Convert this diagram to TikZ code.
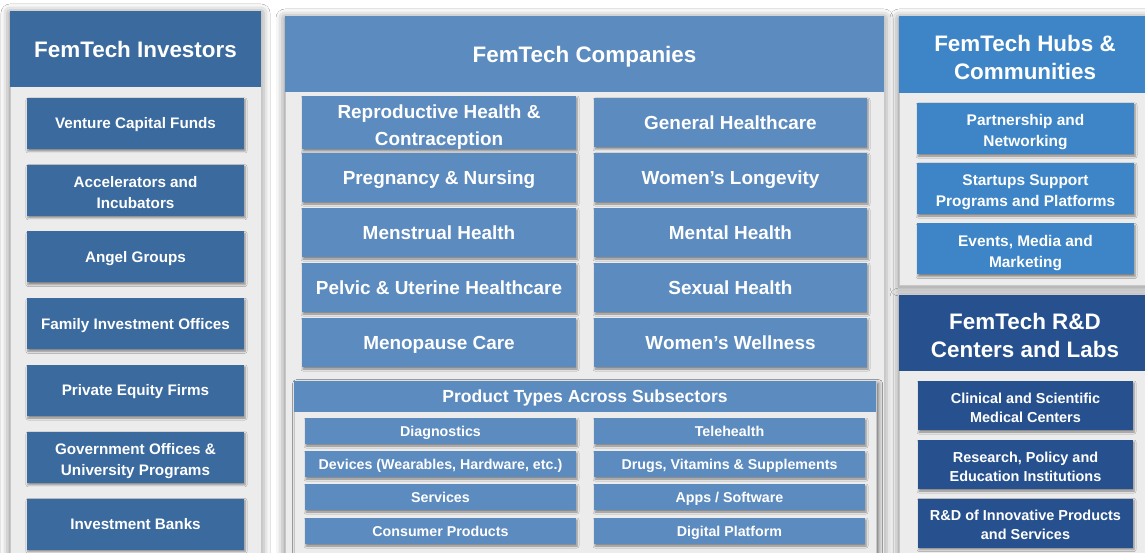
\documentclass[tikz,border=0pt]{standalone}
\usepackage{fontspec}
\setmainfont{Liberation Sans}
\usepackage{tikz}
\usetikzlibrary{shadows, shadows.blur}
\definecolor{investblue}{RGB}{58,106,158}
\definecolor{companyblue}{RGB}{92,139,191}
\definecolor{hubblue}{RGB}{61,133,198}
\definecolor{labblue}{RGB}{38,81,142}
\definecolor{panelgray}{RGB}{236,236,236}
\newcommand{\linestrut}{\rule[-0.21em]{0pt}{1.14em}}
\newcommand{\twolines}[3][4.5bp]{\rule[-0.21em]{0pt}{\dimexpr 1.14em+#1\relax}#2\\#3}
\tikzstyle{panel} = [rectangle, fill=panelgray, draw=black!22, line width=0.8bp,
                     inner sep=0pt, blur shadow={shadow xshift=0bp, shadow yshift=-2bp,
                     shadow blur radius=9bp, shadow opacity=55}]
\tikzstyle{head} = [rectangle, text=white, align=center, inner sep=0pt,
                    execute at begin node=\linestrut, execute at end node=\linestrut,
                    font=\bfseries\fontsize{22.5}{28}\selectfont]
\tikzstyle{item} = [rectangle, text=white, align=center, inner sep=0pt,
                    execute at begin node=\linestrut, execute at end node=\linestrut,
                    blur shadow={shadow xshift=1bp, shadow yshift=-2bp,
                    shadow blur radius=2bp, shadow opacity=45}]
\tikzstyle{investitem} = [item, fill=investblue, minimum width=217bp,
                          minimum height=51bp, font=\bfseries\fontsize{15.3}{21}\selectfont]
\tikzstyle{sectoritem} = [item, fill=companyblue, minimum height=49bp,
                          font=\bfseries\fontsize{19}{27}\selectfont]
\tikzstyle{typeitem} = [item, fill=companyblue, minimum width=271bp,
                        minimum height=26bp, font=\bfseries\fontsize{14.3}{17}\selectfont]
\tikzstyle{hubitem} = [item, fill=hubblue, minimum width=217bp,
                       minimum height=51bp, font=\bfseries\fontsize{15.5}{21}\selectfont]
\tikzstyle{labitem} = [item, fill=labblue, minimum width=215bp,
                       minimum height=49bp, font=\bfseries\fontsize{14.5}{19}\selectfont]
\begin{document}
\begin{tikzpicture}[x=1bp, y=-1bp]
\useasboundingbox (0,0) rectangle (1145,553);
\clip (0,0) rectangle (1145,553);
\fill[white] (0,0) rectangle (1145,553);
\node [panel, minimum width=251bp, minimum height=559bp] at (135.5,290.5) (investors) {};
\node [head, fill=investblue, minimum width=251bp, minimum height=76bp] at (135.5,49)
	(investors_head) {FemTech Investors};
\node [investitem] at (135.5,123.5) (venture) {Venture Capital Funds};
\node [investitem] at (135.5,190.25) (accelerators) {\twolines{Accelerators and}{Incubators}};
\node [investitem] at (135.5,257) (angel) {Angel Groups};
\node [investitem] at (135.5,323.75) (family) {Family Investment Offices};
\node [investitem] at (135.5,390.5) (equity) {Private Equity Firms};
\node [investitem] at (135.5,457.25) (government)
	{\twolines{Government Offices \&}{University Programs}};
\node [investitem] at (135.5,524) (banks) {Investment Banks};
\node [panel, minimum width=599bp, minimum height=554bp] at (584.5,293) (companies) {};
\node [head, fill=companyblue, minimum width=599bp, minimum height=76bp] at (584.5,54)
	(companies_head) {FemTech Companies};
\node [sectoritem, minimum width=274bp] at (439,122.5) (reproductive)
	{\twolines{Reproductive Health \&}{Contraception}};
\node [sectoritem, minimum width=273bp] at (730.5,122.5) (general) {General Healthcare};
\node [sectoritem, minimum width=274bp] at (439,177.5) (pregnancy) {Pregnancy \& Nursing};
\node [sectoritem, minimum width=273bp] at (730.5,177.5) (longevity) {Women’s  Longevity};
\node [sectoritem, minimum width=274bp] at (439,232.5) (menstrual) {Menstrual Health};
\node [sectoritem, minimum width=273bp] at (730.5,232.5) (mental) {Mental Health};
\node [sectoritem, minimum width=274bp] at (439,287.5) (pelvic) {Pelvic \& Uterine Healthcare};
\node [sectoritem, minimum width=273bp] at (730.5,287.5) (sexual) {Sexual Health};
\node [sectoritem, minimum width=274bp] at (439,342.5) (menopause) {Menopause Care};
\node [sectoritem, minimum width=273bp] at (730.5,342.5) (wellness) {Women's Wellness};
\node [panel, minimum width=582bp, minimum height=189bp, blur shadow={shadow opacity=30,
	shadow blur radius=4bp}] at (585,475.5) (types) {};
\node [rectangle, fill=companyblue, text=white, inner sep=0pt, minimum width=581bp,
	minimum height=31bp, execute at begin node=\linestrut,
	font=\bfseries\fontsize{17.6}{20}\selectfont] at (585,396.5)
	(types_head) {Product Types Across Subsectors};
\node [typeitem] at (440.5,431) (diagnostics) {Diagnostics};
\node [typeitem] at (729.5,431) (telehealth) {Telehealth};
\node [typeitem] at (440.5,464) (devices) {Devices (Wearables, Hardware, etc.)};
\node [typeitem] at (729.5,464) (drugs) {Drugs, Vitamins \& Supplements};
\node [typeitem] at (440.5,497) (services) {Services};
\node [typeitem] at (729.5,497) (apps) {Apps / Software};
\node [typeitem] at (440.5,531) (consumer) {Consumer Products};
\node [typeitem] at (729.5,531) (platform) {Digital Platform};
\node [panel, minimum width=252bp, minimum height=269bp] at (1025,150.5) (hubs) {};
\node [head, fill=hubblue, minimum width=252bp, minimum height=77bp] at (1025,54.5)
	(hubs_head) {\twolines[5.5bp]{FemTech Hubs \&}{Communities}};
\node [hubitem] at (1025.5,128.5) (partnership) {\twolines{Partnership and}{Networking}};
\node [hubitem] at (1025.5,188.5) (startups)
	{\twolines{Startups Support}{Programs and Platforms}};
\node [hubitem] at (1025.5,249) (events) {\twolines{Events, Media and}{Marketing}};
\node [panel, minimum width=252bp, minimum height=275bp] at (1025,432.5) (labs) {};
\node [head, fill=labblue, minimum width=252bp, minimum height=76bp] at (1025,333)
	(labs_head) {\twolines[5.5bp]{FemTech R\&D}{Centers and Labs}};
\node [labitem] at (1025.5,405.5) (clinical)
	{\twolines{Clinical and Scientific}{Medical Centers}};
\node [labitem] at (1025.5,464.5) (research)
	{\twolines{Research, Policy and}{Education Institutions}};
\node [labitem] at (1025.5,523) (innovative)
	{\twolines{R\&D of Innovative Products}{and Services}};
\end{tikzpicture}
\end{document}
